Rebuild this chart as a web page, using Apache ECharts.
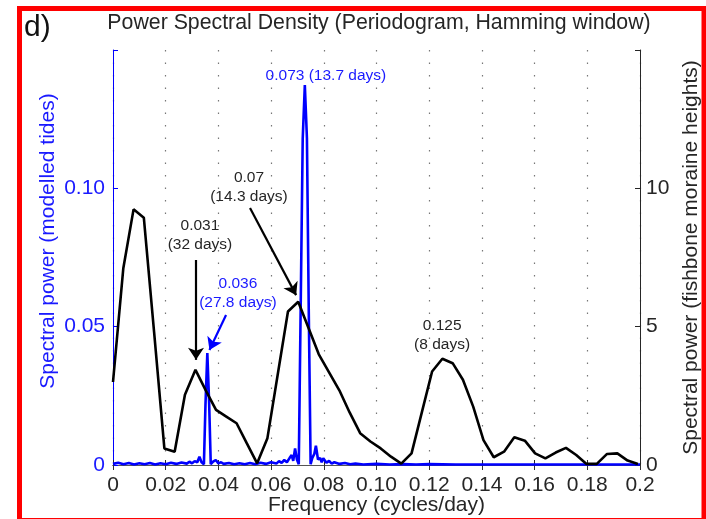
<!DOCTYPE html>
<html><head><meta charset="utf-8">
<script src="https://cdn.jsdelivr.net/npm/echarts@6/dist/echarts.min.js"></script>
<style>html,body{margin:0;padding:0;background:#fff}#c{width:706px;height:519px}</style>
</head><body><div id="c"></div>
<script>
// ---- tick labels ----
const xTickLabels = ['0','0.02','0.04','0.06','0.08','0.10','0.12','0.14','0.16','0.18','0.2'];
const leftTickLabels = ['0','0.05','0.10',''];
const rightTickLabels = ['0','5','10',''];

// ---- fishbone moraine heights spectrum (right axis) ----
const blackFreq = [0,0.0039,0.0078,0.0117,0.0156,0.0195,0.0234,0.0273,0.0313,0.0352,0.0391,0.0430,0.0469,0.0508,0.0547,0.0586,0.0625,0.0664,0.0703,0.0742,0.0781,0.0820,0.0859,0.0898,0.0938,0.0977,0.1016,0.1055,0.1094,0.1133,0.1172,0.1211,0.1250,0.1289,0.1328,0.1367,0.1406,0.1445,0.1484,0.1523,0.1563,0.1602,0.1641,0.1680,0.1719,0.1758,0.1797,0.1836,0.1875,0.1914,0.1953,0.1992];
const blackPower = [3.0,7.1,9.24,8.94,4.8,0.6,0.48,2.54,3.44,2.7,1.99,1.75,1.51,0.78,0.06,0.97,3.26,5.55,5.9,4.95,4.0,3.35,2.7,1.9,1.15,0.85,0.6,0.3,0.05,0.42,1.9,3.38,3.84,3.68,3.08,2.11,0.9,0.28,0.48,1.0,0.88,0.42,0.24,0.45,0.62,0.36,0.04,0.04,0.4,0.42,0.16,0.04];

// ---- modelled tides spectrum (left axis) ----
const blueFreq = [0,0.002,0.004,0.006,0.008,0.010,0.012,0.014,0.016,0.018,0.020,0.022,0.024,0.026,0.028,0.029,0.030,0.031,0.032,0.0328,0.0336,0.0345,0.0351,0.0358,0.0365,0.0371,0.0380,0.0390,0.0400,0.0410,0.0420,0.044,0.046,0.048,0.050,0.052,0.054,0.056,0.058,0.060,0.062,0.063,0.064,0.065,0.066,0.067,0.0678,0.0684,0.0691,0.0698,0.0705,0.0712,0.0720,0.0728,0.0736,0.0743,0.0750,0.0756,0.0764,0.0770,0.0778,0.0786,0.0792,0.0798,0.081,0.082,0.083,0.084,0.086,0.088,0.090,0.092,0.095,0.100,0.105,0.110,0.115,0.120,0.130,0.140,0.150,0.160,0.170,0.180,0.190,0.200];
const bluePower = [0.0004,0.0008,0.0003,0.0007,0.0002,0.0006,0.0003,0.0007,0.0002,0.0006,0.0003,0.0008,0.0004,0.0009,0.0005,0.0012,0.0006,0.0014,0.0010,0.0030,0.0010,0.0003,0.022,0.0405,0.022,0.0003,0.0012,0.0018,0.0006,0.0010,0.0004,0.0007,0.0003,0.0006,0.0003,0.0007,0.0003,0.0008,0.0004,0.0010,0.0005,0.0014,0.0008,0.0018,0.0010,0.0025,0.0036,0.0015,0.0060,0.0020,0.0003,0.055,0.118,0.1373,0.118,0.055,0.0003,0.0025,0.0040,0.0070,0.0020,0.0025,0.0010,0.0024,0.0008,0.0015,0.0005,0.0010,0.0004,0.0007,0.0003,0.0005,0.0002,0.0004,0.0002,0.0003,0.0002,0.0003,0.0002,0.0002,0.0002,0.0002,0.0002,0.0002,0.0002,0.0002];

// ---- annotations (data coordinates) ----
const blackNotes = [
  {text:'0.031\n(32 days)', f:0.0330, v:8.31},
  {text:'0.07\n(14.3 days)', f:0.0516, v:10.05},
  {text:'0.125\n(8 days)', f:0.1249, v:4.70}
];
const blackArrows = [
  {from:[0.0315,7.41], to:[0.0315,3.80]},
  {from:[0.0520,9.29], to:[0.0695,6.14]}
];
const blueNotes = [
  {text:'0.073 (13.7 days)', f:0.0808, v:0.1406},
  {text:'0.036\n(27.8 days)', f:0.0474, v:0.0622}
];
const blueArrows = [
  {from:[0.0429,0.0542], to:[0.0366,0.0416]}
];

const FONT = "'Liberation Sans', Arial, sans-serif";
const BLUE = '#0000ff';
const BLUE_TXT = '#1a1aff';
const DARK = '#262626';

const chart = echarts.init(document.getElementById('c'), null, {renderer:'canvas'});

function pairs(xs, ys){ return xs.map((x,i)=>[x, ys[i]]); }

const option = {
  animation:false,
  backgroundColor:'#ffffff',
  textStyle:{fontFamily:FONT},
  grid:{left:113, right:66, top:50, bottom:54, containLabel:false, outerBoundsMode:'none'},
  xAxis:[{
    type:'value', min:0, max:0.2, interval:0.02, position:'bottom',
    axisLine:{show:true, onZero:false, lineStyle:{color:DARK, width:1}},
    axisTick:{show:true, inside:true, length:5, lineStyle:{color:DARK}},
    axisLabel:{color:DARK, fontSize:21, fontFamily:FONT, margin:10,
      formatter:(v)=>xTickLabels[Math.round(v/0.02)]},
    splitLine:{show:true, lineStyle:{color:'#777', width:1.2, type:[1.5,11]}},
    name:'Frequency (cycles/day)', nameLocation:'middle', nameGap:30, nameMoveOverlap:false,
    nameTextStyle:{color:DARK, fontSize:21, fontFamily:FONT}
  },{
    type:'value', min:0, max:0.2, interval:0.02, position:'top',
    axisLine:{show:true, lineStyle:{color:'#555', width:1}},
    axisTick:{show:true, inside:true, length:5, lineStyle:{color:'#333'}},
    axisLabel:{show:false}, splitLine:{show:false}
  }],
  yAxis:[{
    type:'value', min:0, max:0.15, interval:0.05, position:'left',
    axisLine:{show:true, onZero:false, lineStyle:{color:BLUE, width:1}},
    axisTick:{show:true, inside:true, length:5, lineStyle:{color:BLUE}},
    axisLabel:{color:BLUE_TXT, fontSize:21, fontFamily:FONT, margin:8,
      formatter:(v)=>leftTickLabels[Math.round(v/0.05)]},
    splitLine:{show:false}
  },{
    type:'value', min:0, max:15, interval:5, position:'right',
    axisLine:{show:true, onZero:false, lineStyle:{color:DARK, width:1}},
    axisTick:{show:true, inside:true, length:5, lineStyle:{color:DARK}},
    axisLabel:{color:DARK, fontSize:21, fontFamily:FONT, margin:6,
      formatter:(v)=>rightTickLabels[Math.round(v/5)]},
    splitLine:{show:false},
    name:'Spectral power (fishbone moraine heights)', nameLocation:'middle', nameGap:33,
    nameTextStyle:{color:DARK, fontSize:21, fontFamily:FONT}
  }],
  series:[{
    name:'tides', type:'line', xAxisIndex:0, yAxisIndex:0,
    data:pairs(blueFreq, bluePower), showSymbol:false, symbol:'none',
    lineStyle:{color:BLUE, width:2.6}, z:2,
    markLine:{silent:true, symbol:['none','arrow'], symbolSize:12,
      lineStyle:{color:BLUE, width:2.2, type:'solid'}, label:{show:false},
      data:blueArrows.map(a=>[{coord:a.from},{coord:a.to}])},
    markPoint:{silent:true, symbol:'circle', symbolSize:1, itemStyle:{color:'rgba(0,0,0,0)'},
      label:{show:true, position:'inside', color:BLUE_TXT, fontSize:15.5, fontFamily:FONT, lineHeight:19},
      data:blueNotes.map(n=>({coord:[n.f,n.v], value:0, label:{formatter:n.text}}))}
  },{
    name:'moraine', type:'line', xAxisIndex:0, yAxisIndex:1,
    data:pairs(blackFreq, blackPower), showSymbol:false, symbol:'none',
    lineStyle:{color:'#000', width:2.6}, z:3,
    markLine:{silent:true, symbol:['none','arrow'], symbolSize:12,
      lineStyle:{color:'#000', width:2.2, type:'solid'}, label:{show:false},
      data:blackArrows.map(a=>[{coord:a.from},{coord:a.to}])},
    markPoint:{silent:true, symbol:'circle', symbolSize:1, itemStyle:{color:'rgba(0,0,0,0)'},
      label:{show:true, position:'inside', color:DARK, fontSize:15.5, fontFamily:FONT, lineHeight:19},
      data:blackNotes.map(n=>({coord:[n.f,n.v], value:0, label:{formatter:n.text}}))}
  }],
  graphic:[
    {type:'text', left:24, top:13, style:{text:'d)', fontSize:30, fontFamily:FONT, fill:'#111'}},
    {type:'text', x:379, y:23, style:{text:'Power Spectral Density (Periodogram, Hamming window)', fontSize:21.3, fontFamily:FONT, fill:DARK, textAlign:'center', textVerticalAlign:'middle'}},
    {type:'text', x:48, y:241, rotation:Math.PI/2, style:{text:'Spectral power (modelled tides)', fontSize:21, fontFamily:FONT, fill:BLUE_TXT, textAlign:'center', textVerticalAlign:'middle'}},
    {type:'rect', shape:{x:19.5, y:8.5, width:684.5, height:512}, style:{fill:null, stroke:'#ff0000', lineWidth:5}, z:100}
  ]
};
chart.setOption(option);
</script>
</body></html>
